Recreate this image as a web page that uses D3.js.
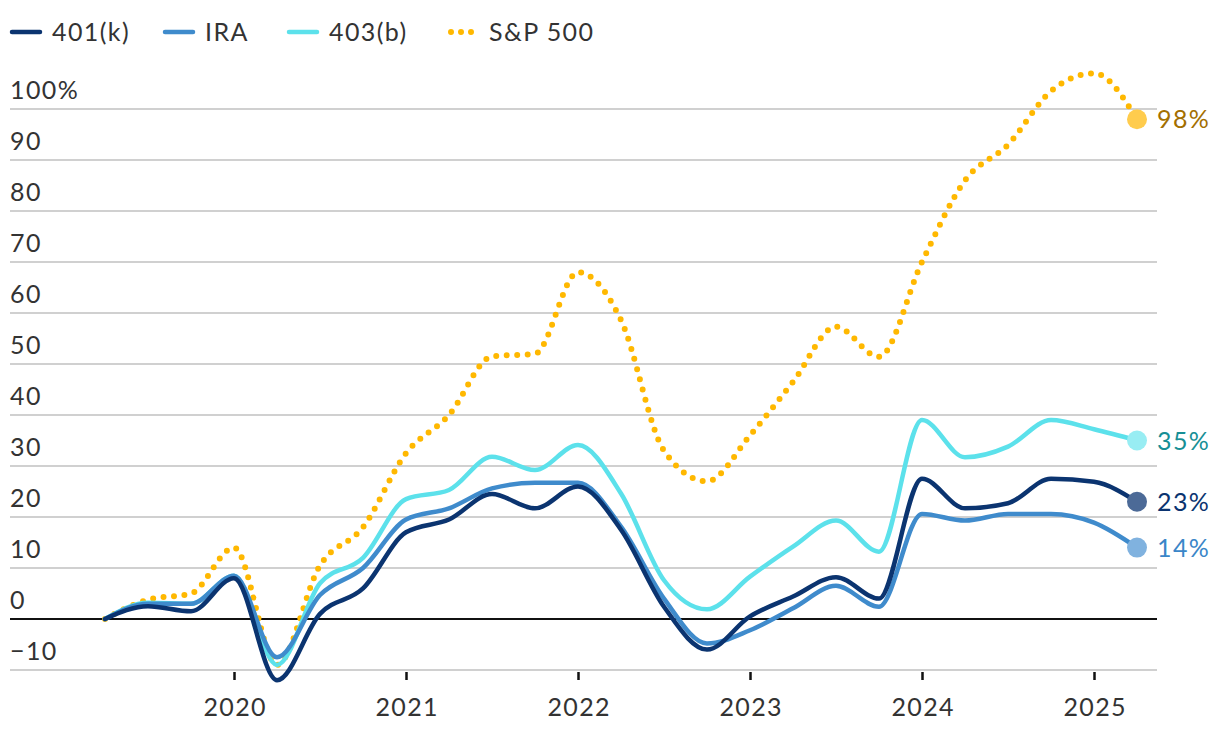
<!DOCTYPE html>
<html>
<head>
<meta charset="utf-8">
<script src="https://cdn.jsdelivr.net/npm/d3@7"></script>
<style>
  body { margin: 0; background: #fff; }
  text { font-family: Lato, "Open Sans", sans-serif; fill: #333; font-size: 25px; letter-spacing: 1.4px; }
</style>
</head>
<body>
<script>
// quarterly cumulative returns, Q1 2019 .. Q1 2025
const quarters = d3.range(25).map(i => 2019.25 + i * 0.25);
const k401 = [0, 2.5, 1.5, 8, -12, 1, 6, 17, 19.5, 24.5, 21.7, 26, 17.5, 2.4, -6, 0.5, 4.4, 8.2, 4, 27.5, 21.7, 22.7, 27.5, 26.9, 23];
const ira = [0, 3, 3, 8.5, -7.5, 4.7, 10, 19.5, 21.7, 25.6, 26.7, 26.7, 18.1, 4, -4.8, -2.2, 2.1, 6.5, 2.4, 20.6, 19.3, 20.6, 20.6, 18.9, 14];
const b403 = [0, 3.2, 3, 8.5, -9, 7, 12, 23.5, 25.3, 31.8, 29.2, 34.1, 24.6, 7.6, 1.9, 8.3, 14.2, 19.3, 13.2, 39, 31.7, 33.8, 39, 37.2, 35];
const sp500 = [0, 3.8, 5, 14, -9, 10.5, 18, 32.5, 40, 51.5, 52, 68, 58.6, 33, 27, 36, 46.5, 57.3, 51.4, 70, 86, 93, 103.5, 107, 98];
const yTicks = [-10, 0, 10, 20, 30, 40, 50, 60, 70, 80, 90, 100];
const yearTicks = [2020, 2021, 2022, 2023, 2024, 2025];

const series = [
  { name: "S&P 500", values: sp500, color: "#ffb800", dot: "#ffcc4d", label: "#a36f00", dotted: true },
  { name: "403(b)", values: b403, color: "#5ce1eb", dot: "#98edf3", label: "#178f96" },
  { name: "IRA", values: ira, color: "#3f8bcc", dot: "#80b2df", label: "#3a86c8" },
  { name: "401(k)", values: k401, color: "#0b3470", dot: "#4c6a97", label: "#0b3470" }
];
const legendOrder = ["401(k)", "IRA", "403(b)", "S&P 500"];

const w = 1220, h = 738;
const svg = d3.select("body").append("svg").attr("width", w).attr("height", h);

const x = d3.scaleLinear().domain([2019.25, 2025.25]).range([105, 1137]);
const y = d3.scaleLinear().domain([-10, 100]).range([670, 109]);
const gridLeft = 10, gridRight = 1157;

//gridlines + labels
const grid = svg.append("g");
grid.selectAll("line").data(yTicks.filter(d => d !== 0)).enter().append("line")
  .attr("x1", gridLeft).attr("x2", gridRight)
  .attr("y1", d => y(d)).attr("y2", d => y(d))
  .attr("stroke", "#d0d0d0").attr("stroke-width", 2);
grid.selectAll("text").data(yTicks).enter().append("text")
  .attr("x", gridLeft).attr("y", d => y(d) - 10)
  .text(d => d === 100 ? "100%" : d < 0 ? "\u2212" + Math.abs(d) : d);

//x axis ticks
const xAxis = d3.axisBottom(x).tickValues(yearTicks).tickSize(8).tickPadding(18).tickFormat(d3.format("d"));
svg.append("g").attr("transform", `translate(0, ${y(-10) + 2})`).call(xAxis)
  .call(g => g.select(".domain").remove())
  .call(g => g.selectAll(".tick line").attr("stroke", "#111").attr("stroke-width", 2.5))
  .call(g => g.selectAll(".tick text").attr("font-size", null).attr("font-family", null).attr("fill", "#333").attr("dx", "0.7px"));

//zero line
svg.append("line").attr("x1", gridLeft).attr("x2", gridRight)
  .attr("y1", y(0)).attr("y2", y(0)).attr("stroke", "#111").attr("stroke-width", 2);

const line = d3.line().x((d, i) => x(quarters[i])).y(d => y(d)).curve(d3.curveMonotoneX);

series.forEach(s => {
  svg.append("path").datum(s.values)
    .attr("d", line).attr("fill", "none")
    .attr("stroke", s.color)
    .attr("stroke-width", s.dotted ? 6 : 4.5)
    .attr("stroke-linecap", "round")
    .attr("stroke-dasharray", s.dotted ? "0 10.5" : null);
});

series.forEach(s => {
  const last = s.values[s.values.length - 1];
  svg.append("circle").attr("cx", x(quarters[24])).attr("cy", y(last)).attr("r", 10).attr("fill", s.dot);
  svg.append("text").attr("x", x(quarters[24]) + 20).attr("y", y(last)).attr("dy", "0.36em")
    .style("fill", s.label).text(Math.round(last) + "%");
});

//legend
const legendX = [10, 163, 287, 448];
const legend = svg.append("g");
legendOrder.forEach((name, i) => {
  const s = series.find(d => d.name === name);
  const g = legend.append("g").attr("transform", `translate(${legendX[i]}, 32)`);
  if (s.dotted) {
    g.append("line").attr("x1", 3).attr("x2", 24).attr("y1", 0).attr("y2", 0)
      .attr("stroke", s.color).attr("stroke-width", 6).attr("stroke-linecap", "round").attr("stroke-dasharray", "0 10");
  } else {
    g.append("line").attr("x1", 2).attr("x2", 30).attr("y1", 0).attr("y2", 0)
      .attr("stroke", s.color).attr("stroke-width", 4.5).attr("stroke-linecap", "round");
  }
  g.append("text").attr("x", s.dotted ? 41 : 42).attr("y", 0).attr("dy", "0.36em").text(name);
});
</script>
</body>
</html>
